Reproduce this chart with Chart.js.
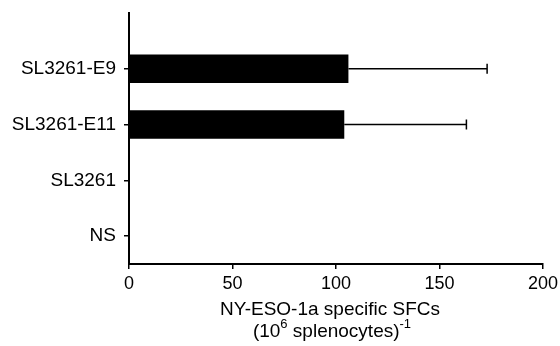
<!DOCTYPE html>
<html><head><meta charset="utf-8">
<script src="https://cdn.jsdelivr.net/npm/chart.js@4/dist/chart.umd.min.js"></script>
<style>html,body{margin:0;padding:0;background:#fff}#wrap{width:560px;height:346px}</style>
</head><body><div id="wrap"><canvas id="c" width="560" height="346"></canvas></div>
<script>
const categories = ['SL3261-E9', 'SL3261-E11', 'SL3261', 'NS'];
const values = [106, 104, 0, 0];
const errors = [67, 59, 0, 0];
const xTicks = [0, 50, 100, 150, 200];
const FONT = 'Liberation Sans, Arial, sans-serif';

const errorBars = {
  id: 'errorBars',
  afterDatasetsDraw(chart) {
    const ctx = chart.ctx, xs = chart.scales.x, ys = chart.scales.y;
    ctx.save();
    ctx.strokeStyle = '#000';
    ctx.lineWidth = 1.5;
    values.forEach((v, i) => {
      if (!errors[i]) return;
      const y = ys.getPixelForValue(i);
      const x0 = xs.getPixelForValue(v), x1 = xs.getPixelForValue(v + errors[i]);
      ctx.beginPath();
      ctx.moveTo(x0, y); ctx.lineTo(x1, y);
      ctx.moveTo(x1, y - 5); ctx.lineTo(x1, y + 5);
      ctx.stroke();
    });
    ctx.restore();
  }
};

const xTitle = {
  id: 'xTitle',
  afterDraw(chart) {
    const ctx = chart.ctx;
    const a = chart.chartArea;
    const cx = (a.left + a.right) / 2 - 6;
    ctx.save();
    ctx.fillStyle = '#000';
    ctx.textBaseline = 'alphabetic';
    ctx.font = '19px ' + FONT;
    ctx.textAlign = 'center';
    ctx.fillText('NY-ESO-1a specific SFCs', cx, 315);
    const parts = [['(10', 19, 0], ['6', 13, -9], [' splenocytes)', 19, 0], ['-1', 13, -9]];
    let total = 0;
    parts.forEach(p => { ctx.font = p[1] + 'px ' + FONT; total += ctx.measureText(p[0]).width; });
    let x = cx - total / 2 + 2;
    ctx.textAlign = 'left';
    parts.forEach(p => {
      ctx.font = p[1] + 'px ' + FONT;
      ctx.fillText(p[0], x, 337 + p[2]);
      x += ctx.measureText(p[0]).width;
    });
    ctx.restore();
  }
};

new Chart(document.getElementById('c'), {
  type: 'bar',
  data: {
    datasets: [{
      data: values.map((v, i) => ({ x: v, y: i })),
      backgroundColor: '#000',
      borderWidth: 0,
      categoryPercentage: 1,
      barPercentage: 0.51
    }]
  },
  options: {
    indexAxis: 'y',
    responsive: false,
    animation: false,
    layout: { padding: { top: 13, right: 17, left: 0, bottom: 0 } },
    plugins: { legend: { display: false }, tooltip: { enabled: false } },
    scales: {
      x: {
        type: 'linear', min: 0, max: 200,
        afterBuildTicks: ax => { ax.ticks = xTicks.map(v => ({ value: v })); },
        afterFit: ax => { ax.height = 82; ax.paddingLeft = 0; ax.paddingRight = 0; },
        grid: { display: true, drawOnChartArea: false, drawTicks: true, tickLength: 5, color: '#000', lineWidth: 1.5 },
        border: { display: true, color: '#000', width: 2 },
        ticks: { color: '#000', font: { family: FONT, size: 18 }, padding: 4, maxRotation: 0 }
      },
      y: {
        type: 'linear', min: -1, max: 3.5, reverse: true, offset: false,
        afterBuildTicks: ax => { ax.ticks = categories.map((c, i) => ({ value: i })); },
        afterFit: ax => { ax.width = 129; ax.paddingTop = 0; ax.paddingBottom = 0; },
        grid: { display: true, offset: false, drawOnChartArea: false, drawTicks: true, tickLength: 5, color: '#000', lineWidth: 1.5 },
        border: { display: true, color: '#000', width: 2 },
        ticks: { color: '#000', font: { family: FONT, size: 19 }, padding: 8,
          callback: v => categories[v] !== undefined ? categories[v] : '' }
      }
    }
  },
  plugins: [errorBars, xTitle]
});
</script></body></html>
